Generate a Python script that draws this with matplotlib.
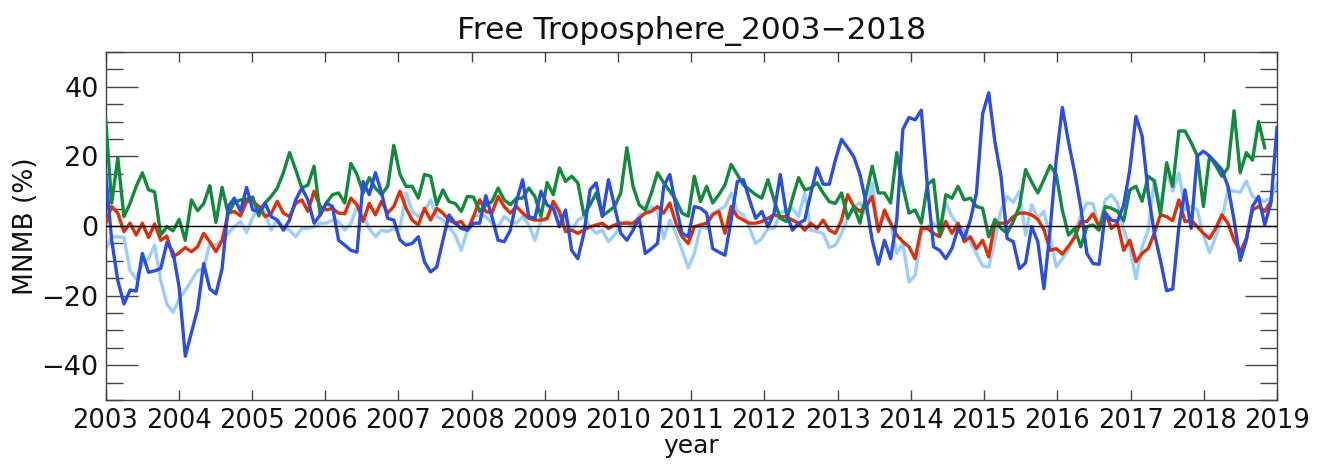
import numpy as np
import matplotlib
matplotlib.use("Agg")
import matplotlib.pyplot as plt
from matplotlib.ticker import MultipleLocator

plt.rcParams['font.family'] = ['DejaVu Sans']

# Monthly MNMB (%) values, Jan 2003 onward
green = [30.9, 6.6, 19.6, 2.7, 6.5, 11.4, 15.3, 10.4, 9.8, -2.6, -0.2, -1.4, 1.9, -4.1, 7.5, 4.4, 6.4, 11.6, 1.0, 11.1, 3.5, 6.8, 7.5, 7.7, 8.3,
         2.9, 6.6, 8.5, 10.9, 15.3, 21.1, 16.2, 10.9, 11.8, 17.2, 3.2, 6.6, 9.0, 9.5, 6.6, 18.0, 14.8, 9.5, 13.9, 10.9, 9.0, 11.4, 23.2, 14.8,
         11.4, 11.4, 8.0, 14.8, 14.3, 6.1, 10.4, 7.0, 6.5, 4.2, 8.5, 8.3, 4.2, 6.1, 7.0, 10.9, 7.5, 6.1, 8.0, 8.0, 10.9, 8.5, 2.7, 12.5,
         9.0, 16.7, 12.8, 14.3, 12.4, 3.2, 6.1, 9.5, 2.9, 4.2, 5.6, 9.5, 22.5, 11.4, 6.1, 4.6, 9.5, 15.3, 12.4, 10.0, 7.5, 3.7, 2.8,
         14.3, 7.0, 11.4, 6.6, 9.0, 11.8, 17.7, 14.8, 11.8, 10.4, 9.0, 8.0, 13.3, 7.5, 2.2, 1.3, 8.0, 13.9, 10.4, 10.9, 12.4, 9.5, 7.0, 6.5,
         9.5, 2.2, 5.6, 0.8, 9.0, 17.2, 9.5, 9.5, 6.6, 21.1, 11.4, 3.7, 4.6, 0.8, 11.9, 13.3, -2.6, 9.0, 8.0, 11.4, 7.5, 8.0, 5.6, 5.1,
         -3.1, 1.9, -0.7, -2.1, 1.3, 5.6, 16.2, 12.6, 9.5, 13.3, 17.4, 14.8, 4.6, -2.6, -0.7, -6.0, -0.2, 0.3, -1.2, 5.6, 5.1, 4.2, 1.5,
         10.4, 11.4, 7.1, 14.3, 12.9, 3.2, 18.2, 11.4, 27.3, 27.3, 24.0, 20.1, 5.6, 20.1, 17.4, 14.3, 16.7, 33.1, 15.3, 21.1, 18.9, 30.0, 22.5]

red = [0.6, 5.6, 3.7, -1.6, 0.8, -2.6, 0.8, -3.3, 0.6, -4.1, -2.9, -8.9, -7.7, -6.2, -7.4, -6.0, -2.1, -4.5, -7.4, -4.1, 3.7, 4.2, 2.9, 7.1, 7.1,
       5.6, 2.7, 3.5, 7.1, 3.7, 2.7, 6.5, 7.5, 4.2, 10.0, 5.6, 4.6, 5.1, 3.7, 3.5, 8.0, 6.1, 1.3, 6.5, 3.2, 7.1, 3.7, 5.6, 10.0,
       5.1, 1.7, 0.3, 5.1, 1.7, 5.1, 3.7, 1.7, 0.8, 1.3, -1.2, 2.7, 7.5, 4.2, 3.7, 8.5, 5.6, 3.7, 5.6, 3.7, 2.2, 1.7, 1.7, 2.2,
       7.1, 4.2, -1.6, -1.2, -2.1, -1.2, -0.2, 0.3, 0.8, -0.7, 0.3, 0.8, 0.8, 0.8, 2.2, 3.7, 4.2, 5.6, 3.7, 6.6, 0.8, -3.1, -5.0,
       -0.2, 0.3, 0.8, 3.2, 4.2, -2.1, 5.6, 2.7, 1.7, 0.8, 0.8, 1.3, 2.2, 3.2, 2.7, 2.7, 1.7, 0.8, -1.2, 0.8, -0.7, 1.7, -1.2, -2.1,
       1.7, 9.0, 5.6, 4.2, 5.6, 8.5, -1.6, 4.6, 0.8, -2.6, -4.5, -6.0, -9.4, -0.7, -0.7, -2.1, -3.1, 1.3, -2.1, 0.8, -4.5, -3.1, -6.5, -4.1,
       -8.9, 0.8, 0.8, 0.8, 2.7, 3.7, 3.7, 3.2, 1.9, -1.0, -7.0, -6.5, -8.1, -5.8, -3.3, 1.3, 1.3, 3.5, -0.2, 3.9, -0.7, 0.8, -7.0,
       -4.1, -10.3, -7.9, -6.5, -2.1, 3.2, 2.7, 1.5, 7.5, 1.3, 1.7, -0.2, -2.1, -3.6, -0.7, 3.2, 0.8, -4.1, -7.4, -3.6, 4.6, 5.6, 4.2, 7.1]

blue = [15.7, -4.1, -15.7, -22.4, -18.4, -18.7, -7.9, -13.3, -12.9, -12.2, -4.8, -7.4, -17.6, -37.4, -30.6, -23.9, -10.8, -18.1, -19.5, -12.3, 5.6, 8.0, 4.2, 11.1, 4.6,
        4.2, 6.6, 2.7, 1.7, -1.2, 1.7, 7.5, 10.9, 7.5, 0.8, 3.2, 6.6, 5.6, -4.1, -5.5, -7.0, -7.5, 12.8, 9.0, 15.3, 9.5, 2.2, 1.7, -4.0,
        -5.5, -5.0, -3.1, -10.3, -13.2, -11.8, -4.1, 3.2, 0.8, -0.7, -1.2, 0.8, 0.8, 8.7, 2.7, -4.1, -4.5, -1.2, 7.1, 13.3, 2.7, 2.2, 10.0, 6.0,
        5.1, -0.2, 4.6, -7.0, -9.4, -2.1, 10.4, 12.4, 2.7, 13.3, 5.6, -2.1, -4.1, -1.2, 2.2, -7.9, -6.5, -5.0, 11.4, 14.8, 5.6, -2.1, -3.1,
        5.6, 5.1, 3.7, -6.5, -7.5, -8.4, 1.7, 12.8, 13.3, 7.5, 2.2, 4.2, -0.2, 3.7, 14.8, 3.7, -1.2, 0.8, 1.7, 9.5, 16.7, 12.0, 12.0, 19.0,
        24.9, 22.5, 19.9, 14.8, 6.6, -4.1, -11.0, -4.1, -9.4, 1.7, 27.8, 31.2, 30.5, 33.3, 11.4, -6.0, -7.0, -9.4, -6.5, -0.7, -3.6, 1.7, 9.5, 32.2,
        38.3, 24.2, 14.3, -3.6, -4.5, -12.3, -10.6, -0.2, -4.5, -18.0, -1.2, 19.1, 34.1, 24.2, 15.5, 5.4, -7.9, -10.8, -11.0, 3.7, 1.7, 1.3, 6.0,
        16.2, 31.5, 25.9, 9.5, -2.1, -9.9, -18.6, -18.1, -0.2, 10.4, -0.7, 20.1, 21.5, 20.1, 18.2, 16.2, 11.4, 1.7, -9.9, -4.1, 5.6, 8.5, 0.3, 6.6, 28.3]

lightblue = [-6.8, -3.1, -3.1, -3.3, -12.8, -15.2, -10.8, -9.4, -5.5, -15.7, -22.4, -24.8, -20.9, -18.5, -15.7, -12.8, -12.3, -5.0, -5.5, -4.1, -2.1, -0.2, 1.3, -1.9, 2.5,
             5.6, 3.7, -1.2, 1.7, -0.2, -1.2, -3.1, -0.7, -0.7, -0.2, 0.8, 0.8, 1.7, 1.3, -1.2, 0.8, 5.6, 3.2, -0.7, -3.1, -1.2, -1.6, -0.7, -0.7,
             9.5, 4.2, 2.7, 4.2, 7.5, 2.7, 1.7, -0.2, -2.6, -7.0, -1.2, 2.7, 3.2, 2.7, 0.8, -0.2, 2.7, 1.3, 0.8, 2.7, 0.3, -4.1, 1.7, 1.7,
             6.6, 2.7, 1.7, -1.2, 1.7, 2.7, -0.2, -2.1, -1.2, -4.5, -2.6, 0.3, 1.3, -0.7, 3.2, 3.7, 5.6, 4.2, -3.6, 1.7, -2.1, -7.0, -12.0,
             -7.9, -0.2, -0.7, 3.7, 4.6, 5.6, 9.5, 4.2, 3.2, -0.7, -5.0, -3.6, -0.7, -0.7, 3.7, 4.6, 5.1, 2.7, 9.5, -1.2, -1.6, -2.1, -6.2, -5.5,
             -2.1, 2.2, 5.6, 6.6, 3.7, 12.4, -0.2, 2.7, 0.8, -7.9, -5.0, -16.1, -14.2, -2.1, -0.2, 0.8, -1.2, 6.6, 2.7, 0.3, -1.2, -4.5, -7.9, -11.5,
             -11.8, -4.1, 4.6, 8.5, 6.8, 10.0, -2.6, 6.1, 2.2, 4.2, -3.1, -11.8, -9.4, -7.0, -2.1, 3.2, 6.6, 6.4, -0.2, 7.5, 9.0, 6.6, -1.0,
             -6.0, -15.2, -6.0, -1.2, 13.3, 5.6, 15.7, 10.0, 15.3, 4.6, 5.6, 4.6, -2.6, -7.7, -3.1, 1.7, 10.4, 10.0, 9.7, 12.9, 8.5, 7.5, 7.1, 8.0, 12.2]

years = list(range(2003, 2020))
title = "Free Troposphere_2003\u22122018"

t = np.linspace(2003, 2019, len(blue))

fig = plt.figure(figsize=(13.21, 4.68), dpi=100)
ax = fig.add_axes([0.0799, 0.1453, 0.8868, 0.7436])

lw = 2.4
ax.plot(t[:len(lightblue)], lightblue, color='#9ccdff', lw=lw, zorder=2)
ax.plot(t[:len(red)], red, color='#dc3008', lw=lw, zorder=3)
ax.plot(t[:len(green)], green, color='#128a3c', lw=lw, zorder=4)
ax.plot(t[:len(blue)], blue, color='#2b4de0', lw=lw, zorder=5)
ax.axhline(0, color='black', lw=1.0, zorder=6)

ax.set_xlim(2003, 2019)
ax.set_ylim(-50, 50)
ax.set_xticks(years)
ax.set_xticklabels([str(y) for y in years])
ax.set_yticks([-40, -20, 0, 20, 40])
ax.yaxis.set_minor_locator(MultipleLocator(5))

ax.tick_params(axis='x', which='major', direction='in', length=7, width=1, top=True, bottom=True,
               labelsize=18.5, pad=6, color='#444444', labelcolor='#111111')
ax.tick_params(axis='y', which='major', direction='in', length=23, width=1, left=True, right=True,
               labelsize=19.5, pad=5, color='#444444', labelcolor='#111111')
ax.tick_params(axis='y', which='minor', direction='in', length=12, width=1, left=True, right=True,
               color='#444444')
for s in ax.spines.values():
    s.set_color('#444444')
    s.set_linewidth(1.0)

ax.set_title(title, fontsize=22.5, pad=9, color='#111111')
ax.set_xlabel('year', fontsize=18, labelpad=0, color='#111111')
ax.set_ylabel('MNMB (%)', fontsize=19, labelpad=2, color='#111111')

fig.savefig('out.png', dpi=100)
